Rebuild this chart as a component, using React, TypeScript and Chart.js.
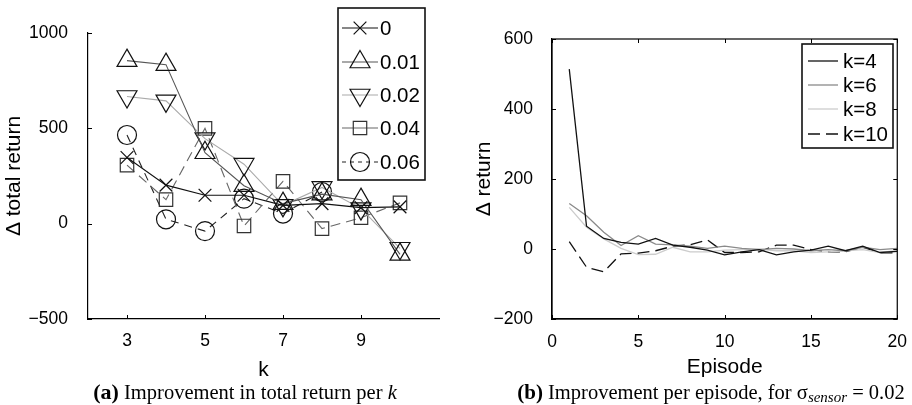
import React, { useEffect, useRef } from "react";
import { Chart, registerables } from "chart.js";

Chart.register(...registerables);

// ---------- Panel (a) data ----------
const kValues = [3, 4, 5, 6, 7, 8, 9, 10];
const sigmaLabels = ["0", "0.01", "0.02", "0.04", "0.06"];
const sigma0 = [347, 202, 149, 149, 96, 105, 84, 88];
const sigma001 = [855, 834, 372, 199, 105, 155, 126, -161];
const sigma002 = [667, 644, 446, 312, 96, 190, 79, -129];
const sigma004 = [307, 126, 500, -12, 222, -26, 31, 109];
const sigma006 = [465, 23, -39, 131, 53, 166];
const leftXTicks = [3, 5, 7, 9];
const leftYTicks = [-500, 0, 500, 1000];

// ---------- Panel (b) data ----------
const episodes = [1, 2, 3, 4, 5, 6, 7, 8, 9, 10, 11, 12, 13, 14, 15, 16, 17, 18, 19, 20];
const kLabels = ["k=4", "k=6", "k=8", "k=10"];
const k4 = [514, 65, 30, 19, 14, 30, 11, 5, -3, -17, -8, -2, -17, -8, -3, 8, -5, 8, -10, -7];
const k6 = [130, 95, 48, 10, 38, 14, 12, 8, 2, 8, 2, -2, 2, 0, -5, -2, -5, 5, -2, 2];
const k8 = [119, 62, 29, 2, -16, -15, 5, -8, -8, -3, -2, 0, -5, -5, -10, -8, -5, -2, -10, -5];
const k10 = [21, -52, -65, -14, -12, -5, 8, 12, 26, -10, -10, -8, 11, 11, -2, -8, -8, 5, -11, -11];
const rightXTicks = [0, 5, 10, 15, 20];
const rightYTicks = [-200, 0, 200, 400, 600];

const FONT = "'Liberation Sans', Arial, Helvetica, sans-serif";

type Marker = { style: string; radius: number; rotation: number };

function drawMarker(ctx: CanvasRenderingContext2D, m: Marker, x: number, y: number) {
  const r = m.radius;
  ctx.beginPath();
  if (m.style === "circle") {
    ctx.arc(x, y, r, 0, Math.PI * 2);
  } else if (m.style === "triangle") {
    const s = m.rotation === 180 ? -1 : 1;
    const h = (r * Math.sqrt(3)) / 2;
    ctx.moveTo(x, y - s * r);
    ctx.lineTo(x + h, y + (s * r) / 2);
    ctx.lineTo(x - h, y + (s * r) / 2);
    ctx.closePath();
  } else if (m.style === "rect") {
    const s = r * Math.SQRT1_2;
    ctx.rect(x - s, y - s, 2 * s, 2 * s);
  } else if (m.style === "crossRot") {
    const s = r * Math.SQRT1_2;
    ctx.moveTo(x - s, y - s);
    ctx.lineTo(x + s, y + s);
    ctx.moveTo(x - s, y + s);
    ctx.lineTo(x + s, y - s);
  }
  ctx.stroke();
}

function innerTicksPlugin(len: number, mirror: boolean, box: boolean) {
  return {
    id: "innerTicks",
    afterDraw(chart: any) {
      const { ctx, chartArea: a, scales } = chart;
      const xs = scales.x;
      const ys = scales.y;
      ctx.save();
      ctx.strokeStyle = "#000";
      ctx.lineWidth = 1;
      ctx.beginPath();
      xs.ticks.forEach((t: any) => {
        const px = Math.round(xs.getPixelForValue(t.value)) + 0.5;
        ctx.moveTo(px, a.bottom);
        ctx.lineTo(px, a.bottom - len);
        if (mirror) {
          ctx.moveTo(px, a.top);
          ctx.lineTo(px, a.top + len);
        }
      });
      ys.ticks.forEach((t: any) => {
        const py = Math.round(ys.getPixelForValue(t.value)) + 0.5;
        ctx.moveTo(a.left, py);
        ctx.lineTo(a.left + len, py);
        if (mirror) {
          ctx.moveTo(a.right, py);
          ctx.lineTo(a.right - len, py);
        }
      });
      ctx.stroke();
      if (box) {
        ctx.lineWidth = 1.2;
        ctx.strokeRect(a.left, a.top, a.right - a.left, a.bottom - a.top);
      }
      ctx.restore();
    },
  };
}

type LegendItem = {
  label: string;
  color: string;
  dash: number[];
  lineWidth: number;
  marker?: Marker;
  markerColor?: string;
};

function legendPlugin(
  items: LegendItem[],
  box: { x: number; y: number; w: number; h: number },
  rows: number[],
  seg: [number, number],
  textX: number,
  fontSize: number
) {
  return {
    id: "customLegend",
    afterDraw(chart: any) {
      const ctx: CanvasRenderingContext2D = chart.ctx;
      ctx.save();
      ctx.fillStyle = "#fff";
      ctx.fillRect(box.x, box.y, box.w, box.h);
      ctx.strokeStyle = "#111";
      ctx.lineWidth = 1.6;
      ctx.strokeRect(box.x, box.y, box.w, box.h);
      items.forEach((it, i) => {
        const y = rows[i];
        ctx.save();
        ctx.strokeStyle = it.color;
        ctx.lineWidth = it.lineWidth;
        ctx.setLineDash(it.dash);
        ctx.beginPath();
        ctx.moveTo(seg[0], y);
        ctx.lineTo(seg[1], y);
        ctx.stroke();
        ctx.restore();
        if (it.marker) {
          ctx.save();
          ctx.setLineDash([]);
          ctx.strokeStyle = it.markerColor || "#111";
          ctx.lineWidth = 1.2;
          drawMarker(ctx, it.marker, (seg[0] + seg[1]) / 2, y);
          ctx.restore();
        }
        ctx.fillStyle = "#000";
        ctx.font = `${fontSize}px ${FONT}`;
        ctx.textBaseline = "middle";
        ctx.textAlign = "left";
        ctx.fillText(it.label, textX, y + 1);
      });
      ctx.restore();
    },
  };
}

const minusFmt = (v: any) => String(v).replace("-", "\u2212");

const leftMarkers: Marker[] = [
  { style: "crossRot", radius: 9, rotation: 0 },
  { style: "triangle", radius: 11.5, rotation: 0 },
  { style: "triangle", radius: 11.5, rotation: 180 },
  { style: "rect", radius: 9.5, rotation: 0 },
  { style: "circle", radius: 9.5, rotation: 0 },
];
const leftSeries = [sigma0, sigma001, sigma002, sigma004, sigma006];
const leftColors = ["#111111", "#555555", "#aaaaaa", "#666666", "#222222"];
const leftDashes = [[], [], [], [10, 6], [8, 6]];
const leftLegendDashes = [[], [], [], [], [4, 4]];
const leftMarkerColors = ["#111", "#111", "#111", "#333", "#111"];

const rightSeries = [k4, k6, k8, k10];
const rightColors = ["#111111", "#8a8a8a", "#cccccc", "#111111"];
const rightDashes = [[], [], [], [12, 6]];

const CANVAS_H = 386;

function LeftChart() {
  const ref = useRef<HTMLCanvasElement>(null);
  useEffect(() => {
    if (!ref.current) return;
    const datasets = leftSeries.map((vals, i) => ({
      label: sigmaLabels[i],
      data: vals.map((v, j) => ({ x: kValues[j], y: v })),
      borderColor: leftColors[i],
      borderWidth: 1.1,
      borderDash: leftDashes[i],
      pointStyle: leftMarkers[i].style,
      pointRotation: leftMarkers[i].rotation,
      pointRadius: leftMarkers[i].radius,
      pointBorderColor: leftMarkerColors[i],
      pointBackgroundColor: "rgba(0,0,0,0)",
      pointBorderWidth: 1.2,
      fill: false,
      tension: 0,
      clip: false,
    }));
    const items: LegendItem[] = sigmaLabels.map((l, i) => ({
      label: l,
      color: leftColors[i],
      dash: leftLegendDashes[i],
      lineWidth: 1.1,
      marker: leftMarkers[i],
      markerColor: leftMarkerColors[i],
    }));
    const chart = new Chart(ref.current, {
      type: "line",
      data: { datasets },
      options: {
        animation: false,
        responsive: false,
        devicePixelRatio: 1,
        layout: { padding: { top: 33, right: 21, left: 0, bottom: 0 } },
        plugins: { legend: { display: false }, tooltip: { enabled: false } },
        scales: {
          x: {
            type: "linear",
            min: 2,
            max: 11,
            afterBuildTicks: (s: any) => {
              s.ticks = leftXTicks.map((v) => ({ value: v }));
            },
            afterFit: (s: any) => {
              s.height = CANVAS_H - 319;
            },
            grid: { display: false },
            border: { display: true, color: "#000", width: 1.2 },
            ticks: { color: "#000", font: { size: 17.5, family: FONT }, padding: 4, maxRotation: 0 },
            title: { display: true, text: "k", color: "#000", font: { size: 21, family: FONT }, padding: { top: 0, bottom: 3 } },
          },
          y: {
            type: "linear",
            min: -500,
            max: 1000,
            afterBuildTicks: (s: any) => {
              s.ticks = leftYTicks.map((v) => ({ value: v }));
            },
            afterFit: (s: any) => {
              s.width = 88;
            },
            grid: { display: false },
            border: { display: true, color: "#000", width: 1.2 },
            ticks: { color: "#000", font: { size: 17.5, family: FONT }, padding: 12, callback: minusFmt },
            title: { display: true, text: "\u0394 total return", color: "#000", font: { size: 21, family: FONT }, padding: { top: 2, bottom: 0 } },
          },
        },
      },
      plugins: [
        innerTicksPlugin(4, false, false),
        legendPlugin(items, { x: 338, y: 8, w: 87, h: 172 }, [28, 62, 95, 128, 162], [342, 378], 380, 20.5),
      ],
    } as any);
    return () => chart.destroy();
  }, []);
  return <canvas ref={ref} width={460} height={CANVAS_H} style={{ position: "absolute", left: 0, top: 0 }} />;
}

function RightChart() {
  const ref = useRef<HTMLCanvasElement>(null);
  useEffect(() => {
    if (!ref.current) return;
    const datasets = rightSeries.map((vals, i) => ({
      label: kLabels[i],
      data: vals.map((v, j) => ({ x: episodes[j], y: v })),
      borderColor: rightColors[i],
      borderWidth: 1.3,
      borderDash: rightDashes[i],
      pointRadius: 0,
      fill: false,
      tension: 0,
    }));
    const items: LegendItem[] = kLabels.map((l, i) => ({
      label: l,
      color: rightColors[i],
      dash: rightDashes[i],
      lineWidth: 1.3,
    }));
    const chart = new Chart(ref.current, {
      type: "line",
      data: { datasets },
      options: {
        animation: false,
        responsive: false,
        devicePixelRatio: 1,
        layout: { padding: { top: 39, right: 14, left: 0, bottom: 0 } },
        plugins: { legend: { display: false }, tooltip: { enabled: false } },
        scales: {
          x: {
            type: "linear",
            min: 0,
            max: 20,
            afterBuildTicks: (s: any) => {
              s.ticks = rightXTicks.map((v) => ({ value: v }));
            },
            afterFit: (s: any) => {
              s.height = CANVAS_H - 319;
            },
            grid: { display: false },
            border: { display: true, color: "#000", width: 1.2 },
            ticks: { color: "#000", font: { size: 17.5, family: FONT }, padding: 5, maxRotation: 0 },
            title: { display: true, text: "Episode", color: "#000", font: { size: 21, family: FONT }, padding: { top: 0, bottom: 6 } },
          },
          y: {
            type: "linear",
            min: -200,
            max: 600,
            afterBuildTicks: (s: any) => {
              s.ticks = rightYTicks.map((v) => ({ value: v }));
            },
            afterFit: (s: any) => {
              s.width = 92;
            },
            grid: { display: false },
            border: { display: true, color: "#000", width: 1.2 },
            ticks: { color: "#000", font: { size: 17.5, family: FONT }, padding: 11, callback: minusFmt },
            title: { display: true, text: "\u0394 return", color: "#000", font: { size: 21, family: FONT }, padding: { top: 12, bottom: 0 } },
          },
        },
      },
      plugins: [
        innerTicksPlugin(4, true, true),
        legendPlugin(items, { x: 342, y: 44, w: 91, h: 104 }, [61, 85, 109, 134], [348, 378], 383, 20.5),
      ],
    } as any);
    return () => chart.destroy();
  }, []);
  return <canvas ref={ref} width={452} height={CANVAS_H} style={{ position: "absolute", left: 460, top: 0 }} />;
}

export default function App() {
  const cap: React.CSSProperties = {
    position: "absolute",
    top: 382,
    fontFamily: "'Liberation Serif', 'Times New Roman', serif",
    fontSize: 20.5,
    lineHeight: "20px",
    whiteSpace: "nowrap",
    textAlign: "center",
    color: "#000",
  };
  return (
    <div style={{ position: "absolute", left: 0, top: 0, width: 912, height: 405, background: "#fff", overflow: "hidden" }}>
      <LeftChart />
      <RightChart />
      <div style={{ ...cap, left: 40, width: 410 }}>
        <b style={{ fontSize: 22 }}>(a)</b> Improvement in total return per <i>k</i>
      </div>
      <div style={{ ...cap, left: 500, width: 422 }}>
        <b style={{ fontSize: 21 }}>(b)</b> Improvement per episode, for σ<sub style={{ fontSize: 15, fontStyle: "italic", verticalAlign: "-3px", lineHeight: 0 }}>sensor</sub> = 0.02
      </div>
    </div>
  );
}
